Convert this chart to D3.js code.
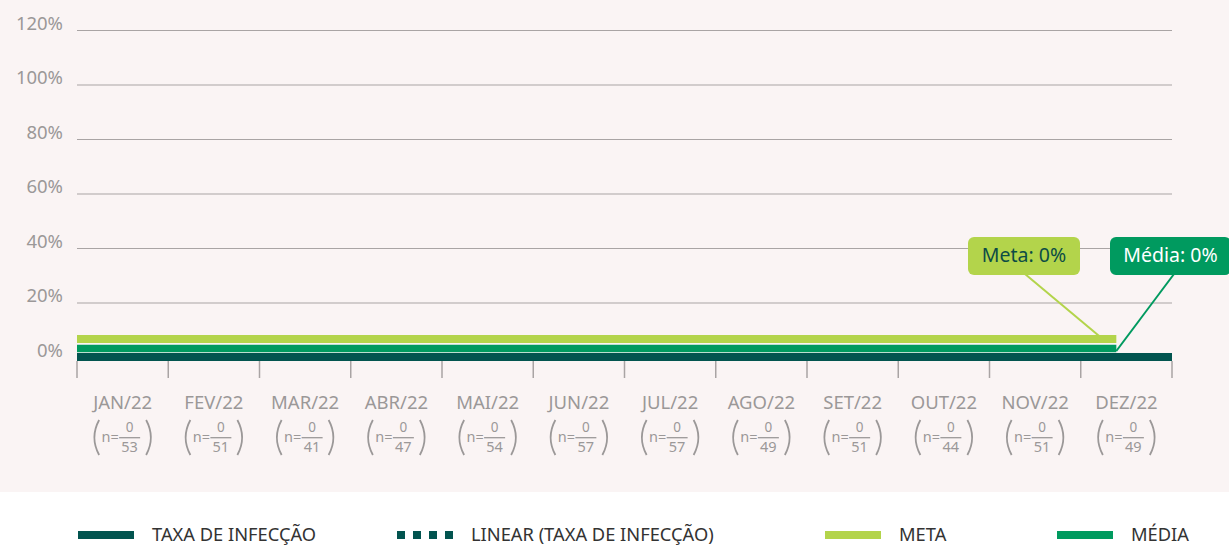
<!DOCTYPE html>
<html>
<head>
<meta charset="utf-8">
<script src="https://cdn.jsdelivr.net/npm/d3@7"></script>
<style>
  body { margin: 0; background: #fff; }
  svg { display: block; font-family: "Noto Sans", sans-serif; }
</style>
</head>
<body>
<div id="chart"></div>
<script>
// data
var months = ["JAN/22","FEV/22","MAR/22","ABR/22","MAI/22","JUN/22","JUL/22","AGO/22","SET/22","OUT/22","NOV/22","DEZ/22"];
var infected = [0,0,0,0,0,0,0,0,0,0,0,0];
var patients = [53,51,41,47,54,57,57,49,51,44,51,49];
var taxa = [0,0,0,0,0,0,0,0,0,0,0,0];
var linearTaxa = [0,0,0,0,0,0,0,0,0,0,0,0];
var meta = 0;
var media = 0;
var yTicks = [0,20,40,60,80,100,120];

var svgWidth = 1229, svgHeight = 547;
var margin = {top: 30, left: 77, right: 57, bottom: 190};
var width = svgWidth - margin.left - margin.right;
var height = svgHeight - margin.top - margin.bottom;

var colDark = "#02544f", colMedia = "#009a5f", colMeta = "#b3d44b";
var grey = "#9b9898";

var svg = d3.select("#chart").append("svg")
  .attr("width", svgWidth).attr("height", svgHeight);

// pink plot background
svg.append("rect").attr("x",0).attr("y",0).attr("width",svgWidth).attr("height",492).attr("fill","#faf4f4");

var g = svg.append("g").attr("transform", `translate(${margin.left}, ${margin.top})`);

var x = d3.scaleBand().domain(months).range([0, width]);
var y = d3.scaleLinear().domain([0,120]).range([height, 0]);

// gridlines + y labels
g.selectAll(".grid").data(yTicks).enter().append("line")
  .attr("x1",0).attr("x2",width)
  .attr("y1",d=>y(d)+0.5).attr("y2",d=>y(d)+0.5)
  .attr("stroke","#a9a4a4").attr("stroke-width",1);

g.selectAll(".ylab").data(yTicks).enter().append("text")
  .attr("x",-14).attr("y",d=>y(d)-5)
  .attr("text-anchor","end").attr("dominant-baseline","middle")
  .attr("fill",grey).attr("font-size",18.5)
  .text(d=>d+"%");

// x ticks at band edges
var edges = months.map(m=>x(m)).concat([width]);
g.selectAll(".xtick").data(edges).enter().append("line")
  .attr("x1",d=>d).attr("x2",d=>d)
  .attr("y1",height+4).attr("y2",height+21)
  .attr("stroke","#a9a4a4").attr("stroke-width",1.5);

// series lines (all at 0, stacked visually)
var lineEnd = x(months[11]) + x.bandwidth()*0.39;
var line = d3.line().x(d=>d[0]).y(d=>d[1]);

g.append("path")
  .datum([[0,y(taxa[0])],[width,y(taxa[11])]])
  .attr("d",line).attr("stroke",colDark).attr("stroke-width",8).attr("fill","none");
g.append("path")
  .datum([[0,y(linearTaxa[0])],[width,y(linearTaxa[11])]])
  .attr("d",line).attr("stroke",colDark).attr("stroke-width",8)
  .attr("stroke-dasharray","8,6").attr("fill","none");
g.append("path")
  .datum([[0,y(media)-8.5],[lineEnd,y(media)-8.5]])
  .attr("d",line).attr("stroke",colMedia).attr("stroke-width",7.5).attr("fill","none");
g.append("path")
  .datum([[0,y(meta)-18],[lineEnd,y(meta)-18]])
  .attr("d",line).attr("stroke",colMeta).attr("stroke-width",8).attr("fill","none");

// month labels with n = fraction
var lab = g.selectAll(".mlab").data(months).enter().append("g")
  .attr("transform",d=>`translate(${x(d)+x.bandwidth()/2},0)`);
lab.append("text").attr("y",height+52).attr("text-anchor","middle")
  .attr("fill",grey).attr("font-size",18.5).text(d=>d);
// big parentheses drawn as curves
var pTop = height+63, pBot = height+98, pMid = (pTop+pBot)/2;
lab.append("path")
  .attr("d",`M-23.5,${pTop} Q-33,${pMid} -23.5,${pBot}`)
  .attr("fill","none").attr("stroke",grey).attr("stroke-width",1.8);
lab.append("path")
  .attr("d",`M23.5,${pTop} Q33,${pMid} 23.5,${pBot}`)
  .attr("fill","none").attr("stroke",grey).attr("stroke-width",1.8);
lab.append("text").attr("x",-12.5).attr("y",height+85).attr("text-anchor","middle")
  .attr("fill",grey).attr("font-size",14.5).text("n=");
lab.append("line").attr("x1",-3.5).attr("x2",17.5).attr("y1",height+80.7).attr("y2",height+80.7)
  .attr("stroke",grey).attr("stroke-width",1.3);
lab.append("text").attr("x",7).attr("y",height+75).attr("text-anchor","middle")
  .attr("fill",grey).attr("font-size",13.5).text((d,i)=>infected[i]);
lab.append("text").attr("x",7).attr("y",height+95).attr("text-anchor","middle")
  .attr("fill",grey).attr("font-size",14.5).text((d,i)=>patients[i]);

// callouts
function callout(bx, bw, fill, textFill, label, tx, ty, ax, ay) {
  svg.append("line").attr("x1",ax).attr("y1",ay).attr("x2",tx).attr("y2",ty)
    .attr("stroke",fill).attr("stroke-width",2);
  svg.append("rect").attr("x",bx).attr("y",237).attr("width",bw).attr("height",38)
    .attr("rx",6).attr("fill",fill);
  svg.append("text").attr("x",bx+bw/2).attr("y",257).attr("text-anchor","middle")
    .attr("dominant-baseline","middle").attr("fill",textFill).attr("font-size",19.5)
    .text(label);
}
callout(968, 112, colMeta, "#0c4c45", "Meta: "+meta+"%", margin.left+lineEnd-16, margin.top+y(meta)-20, 1025, 274);
callout(1110, 121, colMedia, "#ffffff", "Média: "+media+"%", margin.left+lineEnd, margin.top+y(media)-6, 1174, 274);

// legend
var legend = [
  {label:"TAXA DE INFECÇÃO", color:colDark, x:78, dash:null},
  {label:"LINEAR (TAXA DE INFECÇÃO)", color:colDark, x:397, dash:"8,8"},
  {label:"META", color:colMeta, x:825, dash:null},
  {label:"MÉDIA", color:colMedia, x:1057, dash:null}
];
var lg = svg.selectAll(".lg").data(legend).enter().append("g")
  .attr("transform",d=>`translate(${d.x},535)`);
lg.append("line").attr("x1",0).attr("x2",56).attr("y1",0).attr("y2",0)
  .attr("stroke",d=>d.color).attr("stroke-width",8)
  .attr("stroke-dasharray",d=>d.dash);
lg.append("text").attr("x",74).attr("y",1).attr("dominant-baseline","middle")
  .attr("fill","#333").attr("font-size",18.3).text(d=>d.label);
</script>
</body>
</html>
